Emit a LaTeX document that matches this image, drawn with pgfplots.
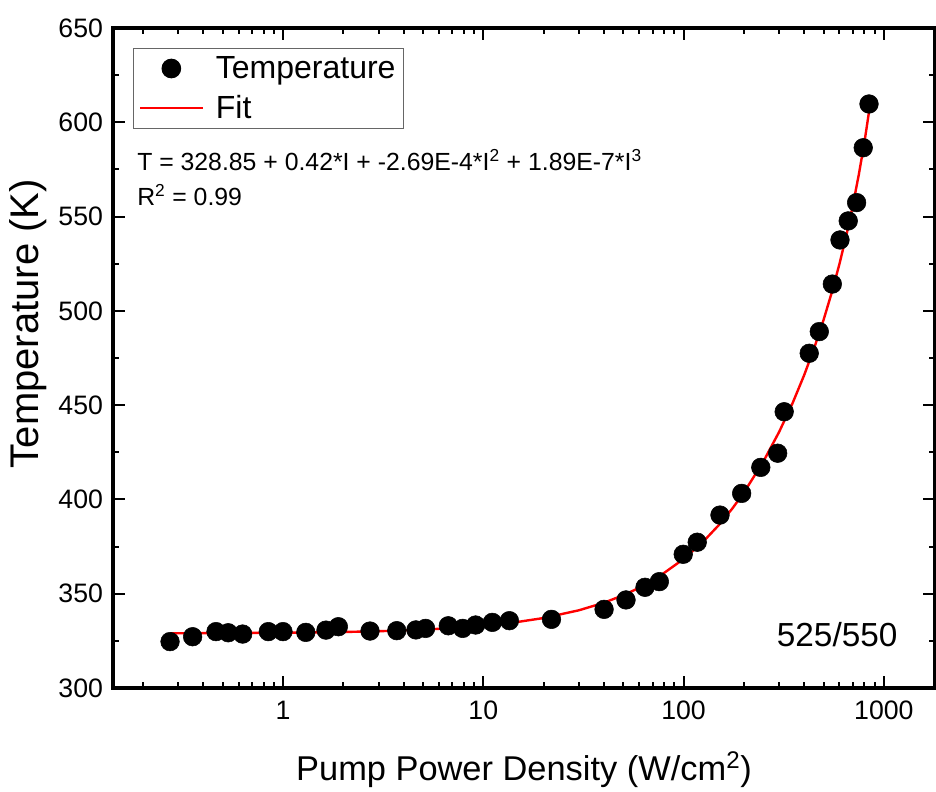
\documentclass[border=0pt]{standalone}
\usepackage{fontspec}
\setmainfont{Liberation Sans}
\usepackage{pgfplots}
\pgfplotsset{compat=1.18}

% data
\pgfplotstableread{
I      T
0.273  324.6
0.354  327.2
0.463  329.9
0.533  329.3
0.629  328.6
0.845  329.9
1.00   329.9
1.30   329.5
1.64   330.7
1.89   332.5
2.72   330.2
3.70   330.4
4.61   330.8
5.15   331.6
6.69   333.0
7.89   331.6
9.16   333.4
11.1   334.8
13.5   335.7
21.9   336.4
40.1   341.7
51.6   346.7
64.2   353.4
75.7   356.4
99.6   370.9
117    377.3
152    391.7
195    403.2
243    417.0
295    424.5
318    446.5
424    477.5
476    489.0
553    514.2
604    537.6
664    547.7
731    557.4
789    586.5
843    609.7
}\temps

\pgfplotstableread{
I      T
0.273  329.0
0.5    329.1
1      329.3
2      329.7
3      330.1
5      330.9
7      331.8
10     333.0
15     335.1
20     337.1
30     341.2
40     345.2
50     349.2
60     353.1
75     358.9
100    368.4
125    377.5
150    386.4
175    395.1
200    403.6
250    420.0
300    435.8
350    451.0
400    465.9
450    480.6
500    495.2
550    509.9
600    524.8
650    540.1
700    555.9
750    572.3
800    589.5
843    605.5
}\fit

\begin{document}
\begin{tikzpicture}
\path[use as bounding box] (-84.75pt,-78pt) rectangle (617.25pt,516pt);
\begin{axis}[
    at={(0,0)}, anchor=south west,
    scale only axis,
    width=616.5pt, height=495pt,
    xmode=log,
    xmin=0.1417, xmax=1800,
    ymin=300, ymax=650,
    xtick={1,10,100,1000},
    xticklabels={1,10,100,1000},
    minor xtick={0.2,0.3,0.4,0.5,0.6,0.7,0.8,0.9,
                 2,3,4,5,6,7,8,9,
                 20,30,40,50,60,70,80,90,
                 200,300,400,500,600,700,800,900},
    ytick={300,350,...,650},
    minor ytick={325,375,...,625},
    tick align=inside,
    major tick length=9pt,
    minor tick length=4.5pt,
    every tick/.style={black, line width=1.5pt},
    axis line style={line width=2.4pt},
    tick label style={font=\fontsize{20}{22}\selectfont},
    /pgf/number format/assume math mode=true,
    xticklabel style={yshift=-6pt},
    yticklabel style={xshift=-4pt},
    xlabel={Pump Power Density (W/cm\textsuperscript{2})},
    ylabel={Temperature (K)},
    xlabel style={font=\fontsize{25.8}{28}\selectfont,
        at={(axis description cs:0.5,-0.1242)}, anchor=center},
    ylabel style={font=\fontsize{30}{32}\selectfont,
        at={(axis description cs:-0.1034,0.552)}, anchor=center},
    legend cell align=left,
    legend style={
        at={(rel axis cs:0.0243,0.9697)}, anchor=north west,
        draw=black!60, line width=0.75pt,
        font=\fontsize{24}{28}\selectfont,
        inner xsep=4pt, inner ysep=4pt,
        row sep=7pt,
    },
    legend image code/.code={
        \draw[mark repeat=2, mark phase=2, #1]
            plot coordinates {(0pt,0pt) (23.5pt,0pt) (47pt,0pt)};
        \path (54pt,0pt);
    },
]
\addplot[only marks, mark=*, mark size=7pt, black] table[x=I, y=T] {\temps};
\addlegendentry{Temperature}
\addplot[red, line width=1.8pt] table[x=I, y=T] {\fit};
\addlegendentry{Fit}

\node[anchor=west, font=\fontsize{18.6}{20}\selectfont, inner sep=0pt]
    at (rel axis cs:0.0292,0.80)
    {T = 328.85 + 0.42*I + -2.69E-4*I\textsuperscript{2} + 1.89E-7*I\textsuperscript{3}};
\node[anchor=west, font=\fontsize{18.6}{20}\selectfont, inner sep=0pt]
    at (rel axis cs:0.0292,0.747)
    {R\textsuperscript{2} = 0.99};
\node[font=\fontsize{25}{28}\selectfont, inner sep=0pt]
    at (rel axis cs:0.881,0.0803) {525/550};
\end{axis}
\end{tikzpicture}
\end{document}
